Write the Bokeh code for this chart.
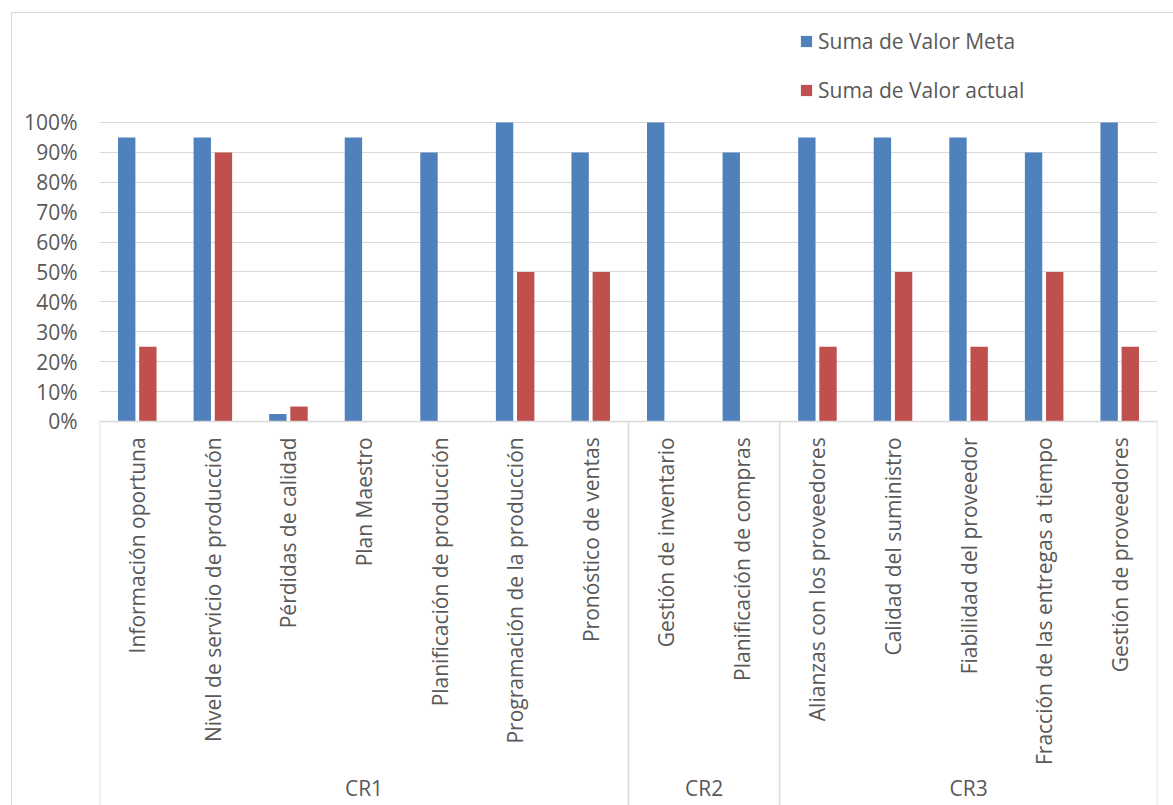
from math import pi
from bokeh.plotting import figure
from bokeh.models import (FactorRange, Range1d, FixedTicker, NumeralTickFormatter,
                          ColumnDataSource, Legend, LegendItem)
from bokeh.transform import dodge
from bokeh.core.properties import value
from bokeh.embed import file_html
from bokeh.resources import INLINE

groups = ["CR1"] * 7 + ["CR2"] * 2 + ["CR3"] * 5
categories = [
    "Información oportuna",
    "Nivel de servicio de producción",
    "Pérdidas de calidad",
    "Plan Maestro",
    "Planificación de producción",
    "Programación de la producción",
    "Pronóstico de ventas",
    "Gestión de inventario",
    "Planificación de compras",
    "Alianzas con los proveedores",
    "Calidad del suministro",
    "Fiabilidad del proveedor",
    "Fracción de las entregas a tiempo",
    "Gestión de proveedores",
]
valor_meta = [0.95, 0.95, 0.025, 0.95, 0.90, 1.00, 0.90, 1.00, 0.90, 0.95, 0.95, 0.95, 0.90, 1.00]
valor_actual = [0.25, 0.90, 0.05, 0.0, 0.0, 0.50, 0.50, 0.0, 0.0, 0.25, 0.50, 0.25, 0.50, 0.25]
group_names = ["CR1", "CR2", "CR3"]
y_ticks = [0, 0.1, 0.2, 0.3, 0.4, 0.5, 0.6, 0.7, 0.8, 0.9, 1.0]

BLUE = "#4F81BD"
RED = "#C0504D"
TEXT = "#595959"
GRID = "#D9D9D9"
FONT = "Open Sans"
FS = "21px"

factors = list(zip(groups, categories))
src = ColumnDataSource(dict(x=factors, meta=valor_meta, actual=valor_actual))

x_range = FactorRange(*factors, group_padding=0, factor_padding=0, subgroup_padding=0,
                      range_padding=0)
y_range = Range1d(-1.2876, 1.3645)

p = figure(width=1162, height=793, x_range=x_range, y_range=y_range,
           output_backend="svg", toolbar_location=None,
           min_border_left=87, min_border_right=17, min_border_top=0, min_border_bottom=0,
           x_axis_location=None)
p.margin = (12, 0, 0, 11)
p.styles = {"border-top": f"1px solid {GRID}", "border-left": f"1px solid {GRID}",
            "box-sizing": "border-box"}
p.outline_line_color = None
p.background_fill_color = "white"
p.border_fill_color = "white"

p.xgrid.visible = False
p.ygrid.ticker = FixedTicker(ticks=y_ticks)
p.ygrid.grid_line_color = GRID
p.ygrid.grid_line_width = 1

yax = p.yaxis[0]
yax.ticker = FixedTicker(ticks=y_ticks)
yax.formatter = NumeralTickFormatter(format="0%")
yax.axis_line_color = None
yax.major_tick_line_color = None
yax.minor_tick_line_color = None
yax.major_tick_in = 0
yax.major_tick_out = 0
yax.major_label_standoff = 22
yax.major_label_text_font = FONT
yax.major_label_text_font_size = FS
yax.major_label_text_color = TEXT

r_meta = p.vbar(x=dodge("x", -0.14, range=x_range), top="meta", width=0.23, source=src,
                fill_color=BLUE, line_color=None)
r_act = p.vbar(x=dodge("x", 0.14, range=x_range), top="actual", width=0.23, source=src,
               fill_color=RED, line_color=None)

# category axis line and group separators (synthetic coordinates of the factor range)
n = len(categories)
bounds = [0, 7, 9, n]
p.segment(x0=[0], y0=[0], x1=[n], y1=[0], line_color=GRID, line_width=1.5)
p.segment(x0=bounds, y0=[0] * 4, x1=bounds, y1=[-1.3] * 4, line_color=GRID, line_width=1.5)

# category labels
p.text(x=factors, y=[-0.053] * n, text=categories, angle=pi / 2,
       text_align="right", text_baseline="middle", text_font=value(FONT),
       text_font_size=FS, text_color=TEXT)
# group labels
p.text(x=group_names, y=[-1.225] * 3, text=group_names,
       text_align="center", text_baseline="middle", text_font=value(FONT),
       text_font_size=FS, text_color=TEXT)

legend = Legend(items=[LegendItem(label="Suma de Valor Meta", renderers=[r_meta]),
                       LegendItem(label="Suma de Valor actual", renderers=[r_act])],
                location=(700, 702), orientation="vertical",
                padding=0, margin=0, spacing=21, border_line_color=None,
                background_fill_alpha=0, glyph_width=14, glyph_height=14,
                label_height=20, label_standoff=5,
                label_text_font=FONT, label_text_font_size=FS, label_text_color=TEXT)
p.add_layout(legend)

open("out.html", "w").write(file_html(p, INLINE))
